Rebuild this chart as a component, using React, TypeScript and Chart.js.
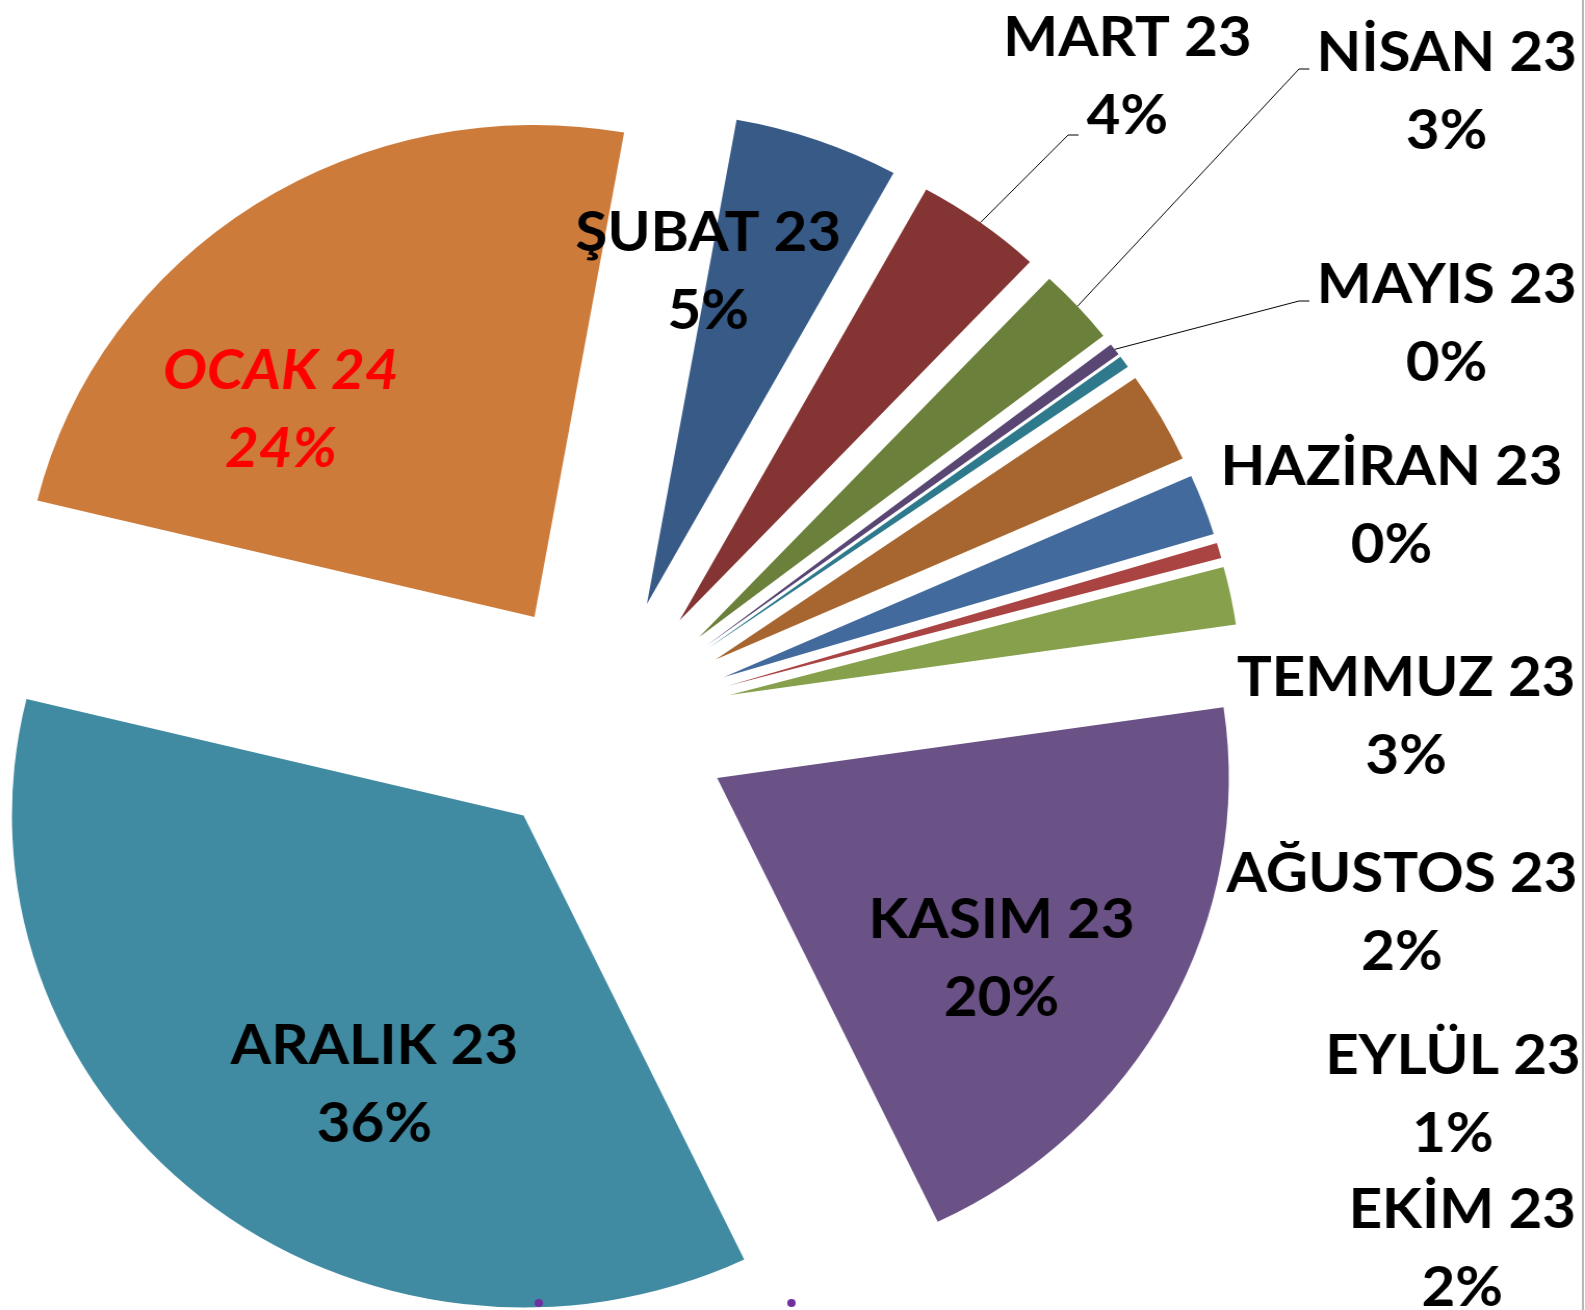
import { useEffect, useRef } from "react";
import { Chart, registerables } from "chart.js";

Chart.register(...registerables);

// ---- data ----
const months = [
  "ŞUBAT 23",
  "MART 23",
  "NİSAN 23",
  "MAYIS 23",
  "HAZİRAN 23",
  "TEMMUZ 23",
  "AĞUSTOS 23",
  "EYLÜL 23",
  "EKİM 23",
  "KASIM 23",
  "ARALIK 23",
  "OCAK 24",
];
const shares = [5.2, 4.0, 2.5, 0.4, 0.4, 3.0, 2.0, 0.5, 1.9, 20.2, 35.9, 24.0];
const percentLabels = ["5%", "4%", "3%", "0%", "0%", "3%", "2%", "1%", "2%", "20%", "36%", "24%"];
const sliceColors = [
  "#375A86",
  "#843432",
  "#6B803B",
  "#5A4673",
  "#2E7A8C",
  "#A7662F",
  "#436A9C",
  "#A94442",
  "#86A04C",
  "#6A5286",
  "#418BA2",
  "#CC7B3B",
];

// ---- layout (not data) ----
const CANVAS_W = 1524;
const CANVAS_H = 1310;
const RADIUS = 492;
const EXPLODE = 123; // px each slice is pulled out from the centre
const ROTATION = 10.1;
const FONT_PX = 56;
const LINE_GAP = 78;

type LabelPos = { x: number; y: number; leader?: [number, number, number] };
const labelLayout: LabelPos[] = [
  { x: 681, y: 251 },
  { x: 1084, y: 56, leader: [1027, 135, 1037] },
  { x: 1391, y: 71, leader: [1249, 69, 1259] },
  { x: 1391, y: 303, leader: [1249, 301, 1259] },
  { x: 1338, y: 485 },
  { x: 1352, y: 696 },
  { x: 1348, y: 892 },
  { x: 1397, y: 1074 },
  { x: 1406, y: 1228 },
  { x: 963, y: 938 },
  { x: 360, y: 1064 },
  { x: 270, y: 389 },
];

// pulls every slice out radially (exploded pie) by moving its arc centre
const explodePlugin = {
  id: "explode",
  beforeDatasetsDraw(chart: any) {
    const area = chart.chartArea;
    const cx = (area.left + area.right) / 2;
    const cy = (area.top + area.bottom) / 2;
    const meta = chart.getDatasetMeta(0);
    meta.data.forEach((el: any) => {
      const mid = (el.startAngle + el.endAngle) / 2;
      el.x = cx + Math.cos(mid) * EXPLODE;
      el.y = cy + Math.sin(mid) * EXPLODE;
    });
  },
};

const labelsPlugin = {
  id: "sliceLabels",
  afterDraw(chart: any) {
    const ctx: CanvasRenderingContext2D = chart.ctx;
    const meta = chart.getDatasetMeta(0);
    ctx.save();
    // leader lines
    ctx.strokeStyle = "#000000";
    ctx.lineWidth = 1;
    labelLayout.forEach((pos, i) => {
      if (!pos.leader) return;
      const el: any = meta.data[i];
      const mid = (el.startAngle + el.endAngle) / 2;
      const sx = el.x + Math.cos(mid) * el.outerRadius;
      const sy = el.y + Math.sin(mid) * el.outerRadius;
      const [bx, by, ex] = pos.leader;
      ctx.beginPath();
      ctx.moveTo(sx, sy);
      ctx.lineTo(bx, by);
      ctx.lineTo(ex, by);
      ctx.stroke();
    });
    // texts
    ctx.textAlign = "center";
    ctx.textBaseline = "alphabetic";
    labelLayout.forEach((pos, i) => {
      const isOcak = i === months.length - 1;
      ctx.font = `${isOcak ? "italic " : ""}bold ${FONT_PX}px Lato, "Open Sans", sans-serif`;
      ctx.fillStyle = isOcak ? "#FF0000" : "#000000";
      ctx.fillText(months[i], pos.x, pos.y);
      ctx.fillText(percentLabels[i], pos.x, pos.y + LINE_GAP);
    });
    // frame line at right edge
    ctx.strokeStyle = "#A0A0A0";
    ctx.lineWidth = 1.5;
    ctx.beginPath();
    ctx.moveTo(CANVAS_W - 2, 0);
    ctx.lineTo(CANVAS_W - 2, CANVAS_H);
    ctx.stroke();
    // two small purple markers at the bottom
    ctx.fillStyle = "#7030A0";
    [518, 761].forEach((x) => {
      ctx.beginPath();
      ctx.arc(x, 1303, 4, 0, Math.PI * 2);
      ctx.fill();
    });
    ctx.restore();
  },
};

export default function App() {
  const ref = useRef<HTMLCanvasElement>(null);
  useEffect(() => {
    if (!ref.current) return;
    const chart = new Chart(ref.current, {
      type: "pie",
      data: {
        labels: months,
        datasets: [
          {
            data: shares,
            backgroundColor: sliceColors,
            borderWidth: 0,
          },
        ],
      },
      options: {
        responsive: false,
        animation: false,
        rotation: ROTATION,
        radius: RADIUS,
        events: [],
        layout: { padding: { left: 0, right: CANVAS_W - 2 * 581, top: 2 * 720 - CANVAS_H, bottom: 0 } },
        plugins: { legend: { display: false }, tooltip: { enabled: false } },
      } as any,
      plugins: [explodePlugin, labelsPlugin],
    });
    return () => chart.destroy();
  }, []);
  return (
    <div style={{ position: "fixed", left: 0, top: 0, width: "1585px", height: "1310px", background: "#ffffff" }}>
      <canvas
        ref={ref}
        width={CANVAS_W}
        height={CANVAS_H}
        style={{ display: "block", width: "1585px", height: "1310px" }}
      />
    </div>
  );
}
